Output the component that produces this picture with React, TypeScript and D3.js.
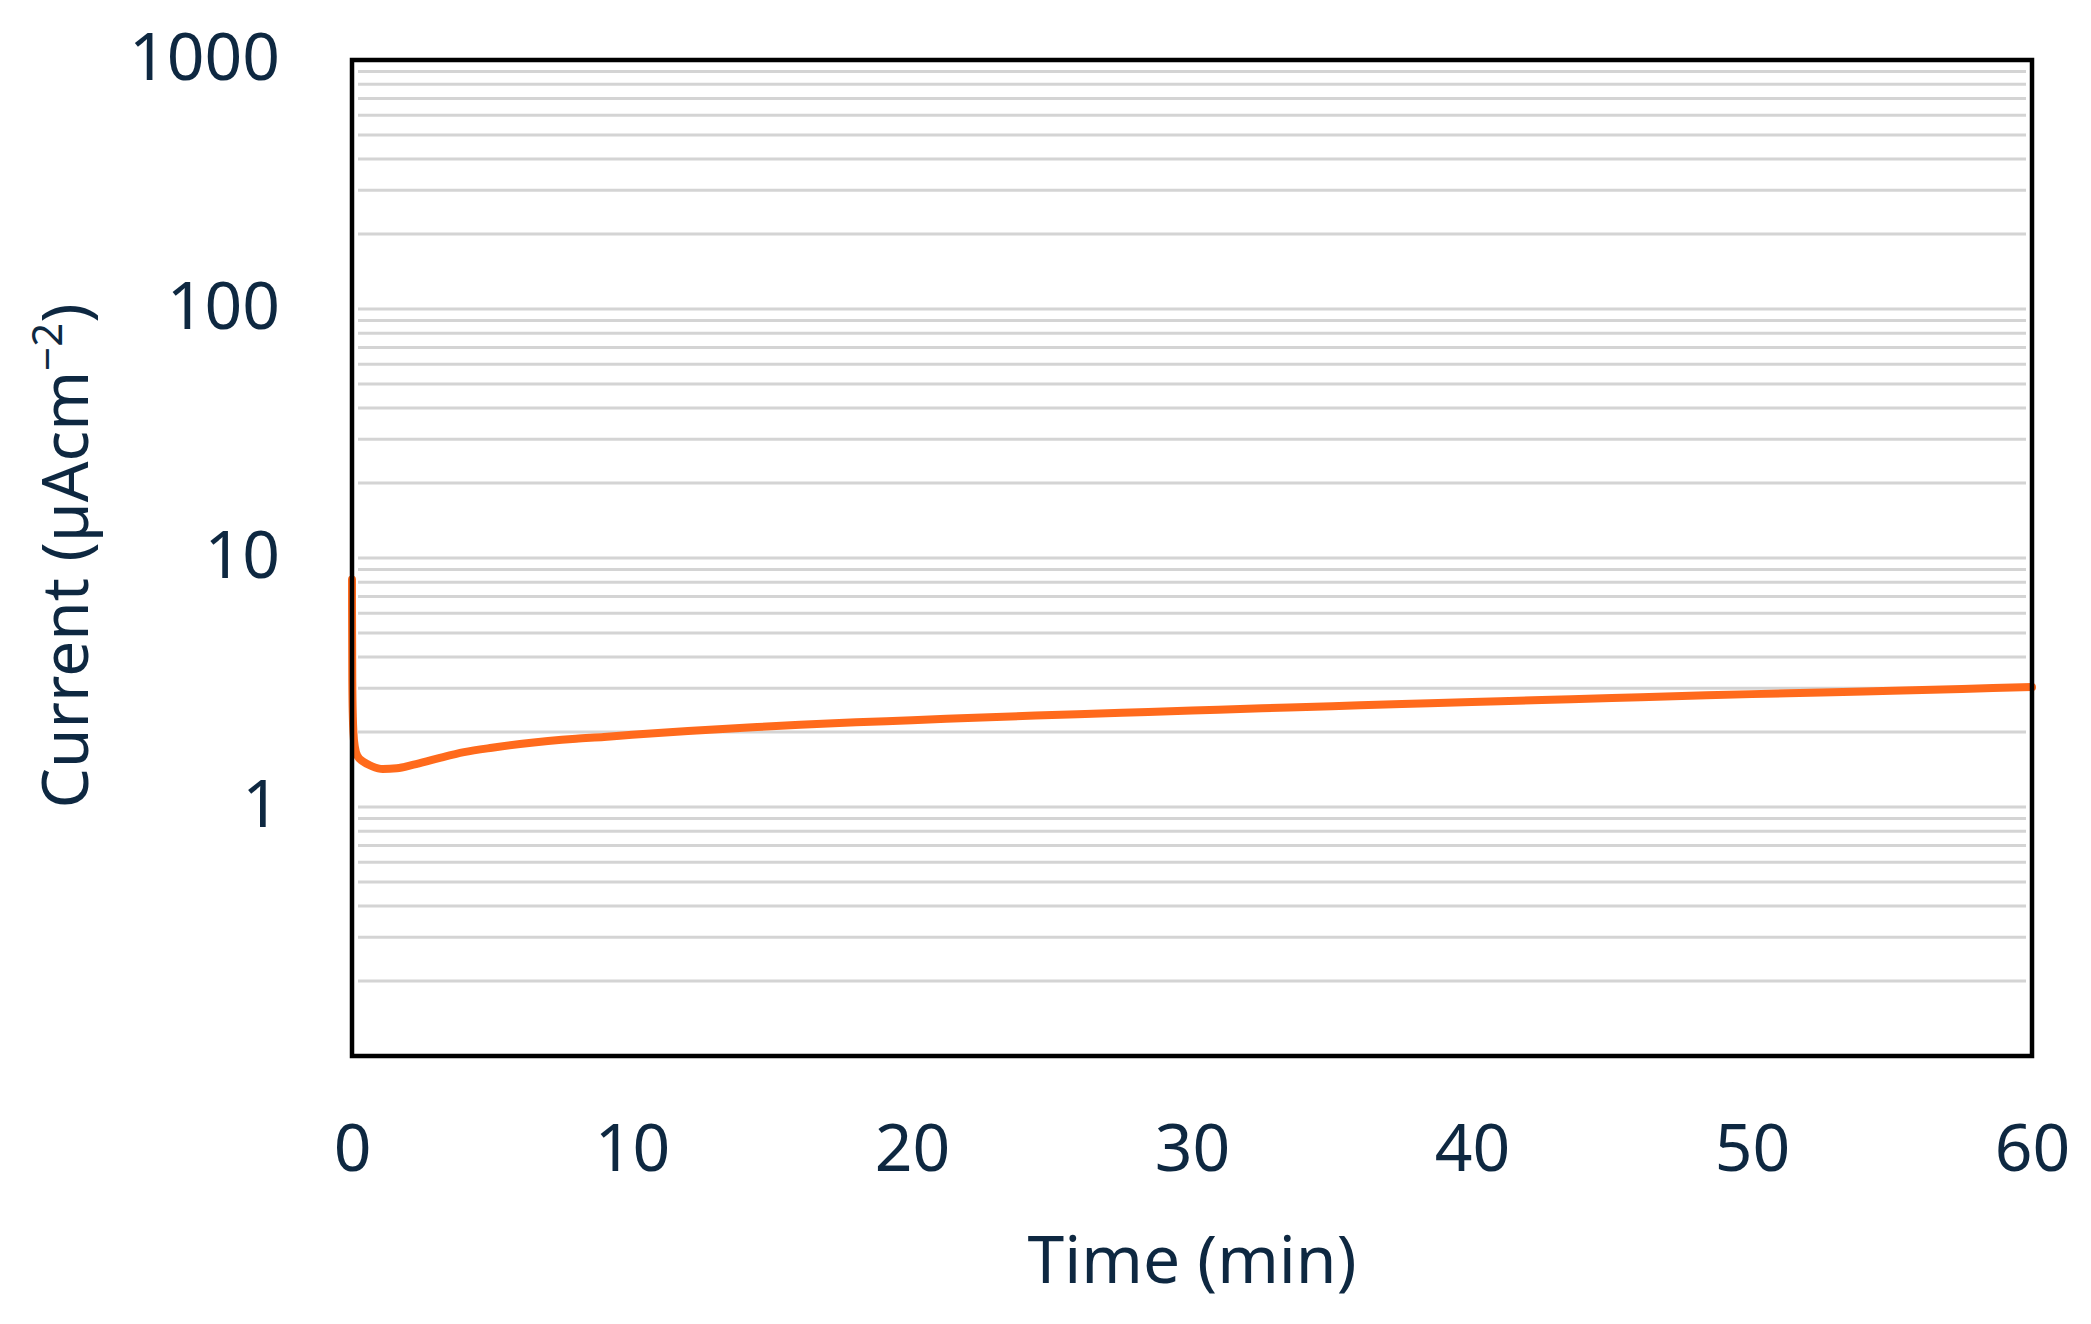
import * as React from 'react'
import * as d3 from 'd3'

// chronoamperometry trace
const timeMin = [
  0, 0, 0.01, 0.03, 0.05, 0.1, 0.2, 0.4, 0.7, 1.1, 1.6, 2.2, 3, 4, 5, 6, 7, 8, 9, 10,
  12, 14, 16, 18, 20, 22.5, 25, 27.5, 30, 32.5, 35, 37.5, 40, 42.5, 45, 47.5, 50, 52.5, 55, 57.5, 60
]
const current = [
  8.2, 6.5, 3.2, 2.3, 2.0, 1.75, 1.6, 1.52, 1.46, 1.42, 1.43, 1.48, 1.56, 1.66, 1.73, 1.79, 1.84, 1.88, 1.91, 1.95,
  2.02, 2.08, 2.14, 2.19, 2.23, 2.29, 2.34, 2.39, 2.44, 2.49, 2.54, 2.59, 2.64, 2.69, 2.74, 2.79, 2.84, 2.88, 2.93, 2.98, 3.03
]

const xTicks = [0, 10, 20, 30, 40, 50, 60]
const yLabelTicks = [1, 10, 100, 1000]
const xDomain = [0, 60]
const yDomain = [0.1, 1000]

const WIDTH = 2091
const HEIGHT = 1324
const margin = { top: 60, right: 59, bottom: 268, left: 352 }
const INK = '#0e2841'
const FONT = '"Noto Sans", "Open Sans", sans-serif'

export default function App() {
  const ref = React.useRef<SVGSVGElement>(null)

  React.useEffect(() => {
    const svg = d3.select(ref.current)
    svg.selectAll('*').remove()

    const w = WIDTH - margin.left - margin.right
    const h = HEIGHT - margin.top - margin.bottom

    const x = d3.scaleLinear().domain(xDomain).range([0, w])
    const y = d3.scaleLog().domain(yDomain).range([h, 0])

    const g = svg.append('g')
      .attr('transform', `translate(${margin.left}, ${margin.top})`)

    // minor log gridlines
    const grid = y.ticks().filter(v => v > yDomain[0] * 1.001 && v < yDomain[1] * 0.999)
    g.append('g').selectAll('line')
      .data(grid)
      .enter().append('line')
      .attr('x1', 6)
      .attr('x2', w - 6)
      .attr('y1', d => y(d))
      .attr('y2', d => y(d))
      .attr('stroke', '#d4d4d4')
      .attr('stroke-width', 3)

    // y labels
    const yAxis = d3.axisLeft(y)
      .tickValues(yLabelTicks)
      .tickFormat(d3.format('d'))
      .tickSize(0)
      .tickPadding(72)
    const ya = g.append('g').call(yAxis)
    ya.select('.domain').remove()
    ya.selectAll('text')
      .attr('fill', INK)
      .attr('font-family', FONT)
      .attr('font-size', 66)
      .attr('dy', '0.3em')

    // x labels
    const xAxis = d3.axisBottom(x)
      .tickValues(xTicks)
      .tickFormat(d3.format('d'))
      .tickSize(0)
      .tickPadding(95)
    const xa = g.append('g')
      .attr('transform', `translate(0, ${h})`)
      .call(xAxis)
    xa.select('.domain').remove()
    xa.selectAll('text')
      .attr('fill', INK)
      .attr('font-family', FONT)
      .attr('font-size', 66)
      .attr('dy', '0.3em')

    // the trace
    const points = timeMin.map((t, i) => [t, current[i]] as [number, number])
    const line = d3.line<[number, number]>()
      .x(d => x(d[0]))
      .y(d => y(d[1]))
      .curve(d3.curveMonotoneX)
    g.append('path')
      .datum(points)
      .attr('d', line)
      .attr('fill', 'none')
      .attr('stroke', '#ff6a1c')
      .attr('stroke-width', 8)
      .attr('stroke-linejoin', 'round')
      .attr('stroke-linecap', 'round')

    // frame
    g.append('rect')
      .attr('x', 0)
      .attr('y', 0)
      .attr('width', w)
      .attr('height', h)
      .attr('fill', 'none')
      .attr('stroke', '#000')
      .attr('stroke-width', 4.5)

    // titles
    svg.append('text')
      .attr('x', margin.left + w / 2)
      .attr('y', 1283)
      .attr('text-anchor', 'middle')
      .attr('fill', INK)
      .attr('font-family', FONT)
      .attr('font-size', 66)
      .text('Time (min)')

    const yt = svg.append('text')
      .attr('transform', 'translate(88, 556) rotate(-90)')
      .attr('text-anchor', 'middle')
      .attr('fill', INK)
      .attr('font-family', FONT)
      .attr('font-size', 64)
    yt.append('tspan').text('Current (µAcm')
    yt.append('tspan').attr('font-size', 42).attr('dy', -26).text('−2')
    yt.append('tspan').attr('dy', 26).text(')')
  }, [])

  return (
    <svg
      ref={ref}
      width={WIDTH}
      height={HEIGHT}
      style={{ position: 'absolute', left: 0, top: 0, background: '#fff' }}
    />
  )
}
